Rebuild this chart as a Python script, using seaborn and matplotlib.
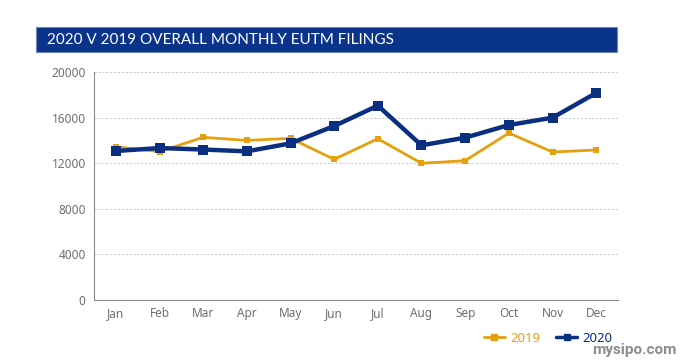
import matplotlib
matplotlib.use('Agg')
import numpy as np
import matplotlib.pyplot as plt
import seaborn as sns
import pandas as pd
from matplotlib.patches import Rectangle
from matplotlib.lines import Line2D

months = ['Jan', 'Feb', 'Mar', 'Apr', 'May', 'Jun', 'Jul', 'Aug', 'Sep', 'Oct', 'Nov', 'Dec']
filings_2019 = [13450, 13010, 14270, 14000, 14180, 12340, 14150, 11990, 12220, 14650, 12980, 13160]
filings_2020 = [13070, 13330, 13200, 13040, 13740, 15260, 17050, 13570, 14240, 15350, 15990, 18160]
y_ticks = [0, 4000, 8000, 12000, 16000, 20000]
title = '2020 V 2019 OVERALL MONTHLY EUTM FILINGS'

c2019 = '#e5a00d'
c2020 = '#0b2f80'
grey = '#6e6e6e'

sns.set_style('white')
plt.rcParams['font.family'] = ['Noto Sans', 'DejaVu Sans']

df19 = pd.DataFrame({'month': months, 'filings': filings_2019})
df20 = pd.DataFrame({'month': months, 'filings': filings_2020})

fig = plt.figure(figsize=(6.81, 3.62), dpi=100)
ax = fig.add_axes([94 / 681, 62 / 362, (618 - 94) / 681, (300 - 72) / 362])

sns.lineplot(data=df19, x='month', y='filings', ax=ax, color=c2019, linewidth=2,
             marker='s', markersize=5, markeredgewidth=0, sort=False)
sns.lineplot(data=df20, x='month', y='filings', ax=ax, color=c2020, linewidth=3.2,
             marker='s', markersize=6.5, markeredgewidth=0, sort=False)

ax.set_xlim(-0.5, 11.5)
ax.set_ylim(0, 20000)
ax.set_yticks(y_ticks)
ax.set_yticklabels([str(v) for v in y_ticks])
ax.set_xticks(range(len(months)))
ax.set_xticklabels(months)
ax.set_xticks(np.arange(-0.5, 12, 1), minor=True)
ax.tick_params(axis='x', which='major', length=0, labelsize=8.5, labelcolor=grey, pad=5)
ax.tick_params(axis='x', which='minor', length=5, direction='in', color='#888888', width=0.8)
ax.tick_params(axis='y', length=0, labelsize=8.5, labelcolor=grey, pad=6)
ax.set_xlabel('')
ax.set_ylabel('')
ax.yaxis.grid(True, linestyle=(0, (2, 1.5)), color='#cfcfcf', linewidth=0.8)
ax.set_axisbelow(True)
for s in ['top', 'right']:
    ax.spines[s].set_visible(False)
for s in ['left', 'bottom']:
    ax.spines[s].set_color('#8a8a8a')
    ax.spines[s].set_linewidth(0.8)

# title band
fig.patches.append(Rectangle((36 / 681, 1 - 52 / 362), (617 - 36) / 681, 25 / 362,
                             transform=fig.transFigure, facecolor='#0a3489',
                             edgecolor='#6f86bd', linewidth=0.8))
fig.text(47 / 681, 1 - 40 / 362, title, color='white', fontsize=11,
         fontweight='normal', family=['Lato', 'DejaVu Sans'], va='center', ha='left')

handles = [Line2D([], [], color=c2019, linewidth=2, marker='s', markersize=5),
           Line2D([], [], color=c2020, linewidth=2.5, marker='s', markersize=5)]
leg = fig.legend(handles, ['2019', '2020'], loc='center', ncol=2, frameon=False,
                 bbox_to_anchor=(548 / 681, 1 - 338 / 362), fontsize=9.5,
                 handlelength=1.6, columnspacing=1.2, handletextpad=0.4)
for t, c in zip(leg.get_texts(), [c2019, c2020]):
    t.set_color(c)

fig.text(634 / 681, 1 - 350 / 362, 'mysipo.com', color='#8c8c8c', fontsize=11,
         fontweight='bold', ha='center', va='center', family=['Roboto', 'DejaVu Sans'])

plt.savefig('out.png', dpi=100)
